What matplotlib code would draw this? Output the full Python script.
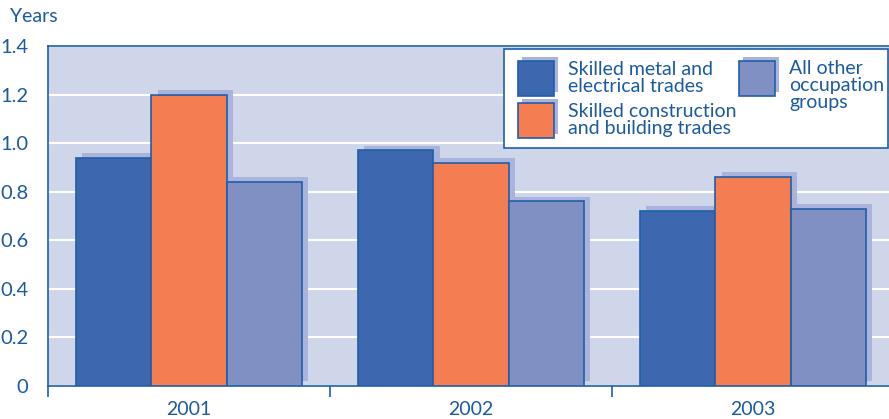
import matplotlib
matplotlib.use('Agg')
import matplotlib.pyplot as plt
import numpy as np
from matplotlib.patches import Rectangle

years = ['2001', '2002', '2003']
metal = [0.94, 0.97, 0.72]
construction = [1.20, 0.92, 0.86]
other = [0.84, 0.76, 0.73]
series_labels = ['Skilled metal and\nelectrical trades',
                 'Skilled construction\nand building trades',
                 'All other\noccupation\ngroups']

text_col = '#1b5a9f'
edge_col = '#1f5ea8'
bg_col = '#d0d6ea'
shadow_col = '#aab3dc'
colors = ['#3d67ae', '#f47e52', '#8090c2']

plt.rcParams['font.family'] = ['Lato', 'DejaVu Sans']

W, H = 889, 419
fig = plt.figure(figsize=(W / 100, H / 100), dpi=100)
ax = fig.add_axes([48 / W, 33 / H, 846 / W, 340 / H])
ax.set_facecolor(bg_col)

x = np.arange(len(years))
width = 0.267
dx, dy = 0.022, 0.02

# Shadows first (shifted up and right), then bars on top
for k, vals in enumerate([metal, construction, other]):
    pos = x + (k - 1) * width
    ax.bar(pos + dx, vals, width, bottom=dy, color=shadow_col,
           zorder=2, linewidth=0)
for k, vals in enumerate([metal, construction, other]):
    pos = x + (k - 1) * width
    ax.bar(pos, vals, width, color=colors[k], edgecolor=edge_col,
           linewidth=1.2, zorder=3)

ax.set_xlim(-0.5, 2.5)
ax.set_ylim(0, 1.4)
yt = np.arange(0, 1.41, 0.2)
ax.set_yticks(yt)
ax.set_yticklabels(['0'] + ['%.1f' % v for v in yt[1:]])
ax.yaxis.grid(True, color='white', linewidth=1.5, zorder=1)
ax.set_axisbelow(True)

ax.set_xticks(x)
ax.set_xticklabels(years)
ax.set_xticks([-0.5, 0.5, 1.5, 2.5], minor=True)
ax.tick_params(axis='x', which='major', length=0, pad=11,
               labelsize=14, labelcolor=text_col)
ax.tick_params(axis='x', which='minor', length=8, width=1.2,
               color=edge_col)
ax.tick_params(axis='y', length=0, pad=14, labelsize=14.5,
               labelcolor=text_col)

for s in ax.spines.values():
    s.set_color(edge_col)
    s.set_linewidth(1.2)

fig.text(10 / W, 1 - 17 / H, 'Years', color=text_col, fontsize=14,
         va='center', ha='left')


def px(xp, yp):
    return ((xp - 48) / 846, (386 - yp) / 340)


# Legend box drawn by hand
x0, y0 = px(504, 148)
x1, y1 = px(888, 49)
ax.add_patch(Rectangle((x0, y0), x1 - x0, y1 - y0, transform=ax.transAxes,
                       facecolor='white', edgecolor=edge_col, linewidth=1.2,
                       zorder=5))

items = [(518, 61, 568, 78), (518, 103, 568, 120), (739, 61, 789, 85)]
for (sx, sy, tx, ty), c, lab in zip(items, colors, series_labels):
    a, b = px(sx + 4, sy + 31)
    a2, b2 = px(sx + 40, sy - 4)
    ax.add_patch(Rectangle((a, b), a2 - a, b2 - b, transform=ax.transAxes,
                           facecolor=shadow_col, linewidth=0, zorder=6))
    a, b = px(sx, sy + 35)
    a2, b2 = px(sx + 36, sy)
    ax.add_patch(Rectangle((a, b), a2 - a, b2 - b, transform=ax.transAxes,
                           facecolor=c, edgecolor=edge_col, linewidth=1.2,
                           zorder=7))
    t1, t2 = px(tx, ty)
    ax.text(t1, t2, lab, transform=ax.transAxes, fontsize=14,
            color=text_col, va='center', ha='left', linespacing=1.0,
            zorder=8)

fig.savefig('out.png', dpi=100)
